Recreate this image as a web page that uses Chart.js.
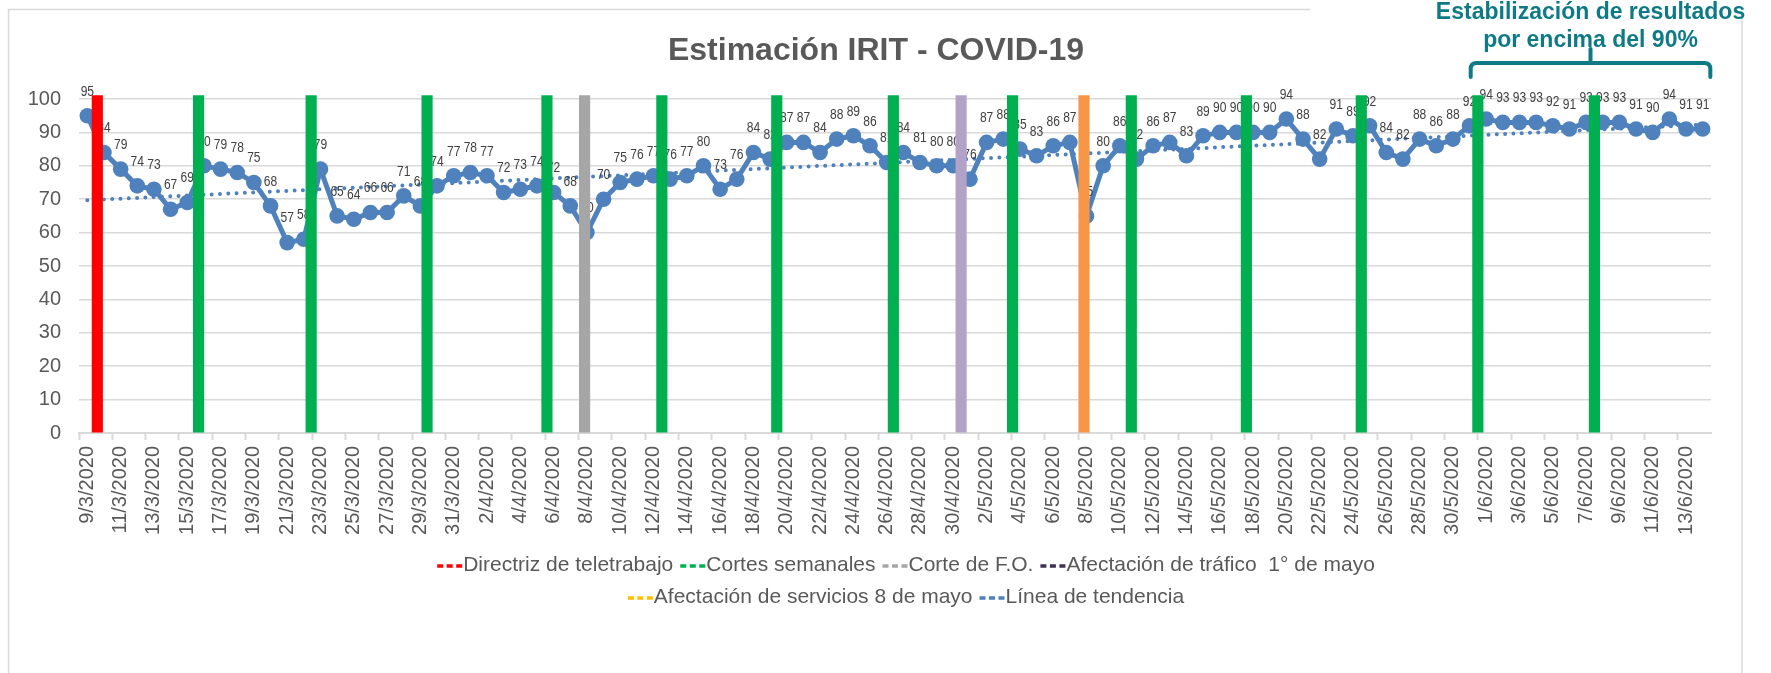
<!DOCTYPE html>
<html><head><meta charset="utf-8">
<script src="https://cdn.jsdelivr.net/npm/chart.js@4.4.1/dist/chart.umd.min.js"></script>
<style>html,body{margin:0;padding:0;background:#fff;} canvas{display:block;}</style>
</head><body>
<canvas id="c" width="1771" height="673"></canvas>
<script>
const FONT = "'Liberation Sans', Arial, Helvetica, sans-serif";

// Categories (one per day)
const dates = [
 '9/3/2020','10/3/2020','11/3/2020','12/3/2020','13/3/2020','14/3/2020','15/3/2020','16/3/2020','17/3/2020','18/3/2020',
 '19/3/2020','20/3/2020','21/3/2020','22/3/2020','23/3/2020','24/3/2020','25/3/2020','26/3/2020','27/3/2020','28/3/2020',
 '29/3/2020','30/3/2020','31/3/2020',
 '1/4/2020','2/4/2020','3/4/2020','4/4/2020','5/4/2020','6/4/2020','7/4/2020','8/4/2020','9/4/2020','10/4/2020',
 '11/4/2020','12/4/2020','13/4/2020','14/4/2020','15/4/2020','16/4/2020','17/4/2020','18/4/2020','19/4/2020','20/4/2020',
 '21/4/2020','22/4/2020','23/4/2020','24/4/2020','25/4/2020','26/4/2020','27/4/2020','28/4/2020','29/4/2020','30/4/2020',
 '1/5/2020','2/5/2020','3/5/2020','4/5/2020','5/5/2020','6/5/2020','7/5/2020','8/5/2020','9/5/2020','10/5/2020',
 '11/5/2020','12/5/2020','13/5/2020','14/5/2020','15/5/2020','16/5/2020','17/5/2020','18/5/2020','19/5/2020','20/5/2020',
 '21/5/2020','22/5/2020','23/5/2020','24/5/2020','25/5/2020','26/5/2020','27/5/2020','28/5/2020','29/5/2020','30/5/2020',
 '31/5/2020',
 '1/6/2020','2/6/2020','3/6/2020','4/6/2020','5/6/2020','6/6/2020','7/6/2020','8/6/2020','9/6/2020','10/6/2020',
 '11/6/2020','12/6/2020','13/6/2020','14/6/2020'
];

// IRIT estimate (%)
const irit = [
 95,84,79,74,73,67,69,80,79,78,75,68,57,58,79,65,64,66,66,71,68,74,77,
 78,77,72,73,74,72,68,60,70,75,76,77,76,77,80,73,76,84,82,87,87,84,88,89,86,81,84,81,80,80,
 76,87,88,85,83,86,87,65,80,86,82,86,87,83,89,90,90,90,90,94,88,82,91,89,92,84,82,88,86,88,92,
 94,93,93,93,92,91,93,93,93,91,90,94,91,91
];

// Event markers: position in day units (0 = 9/3/2020)
const teletrabajo = [0.6];
const cortesSemanales = [6.68, 13.44, 20.4, 27.6, 34.5, 41.4, 48.4, 55.56, 62.69, 69.6, 76.5, 83.5, 90.5];
const corteFO = [29.86];
const trafico1Mayo = [52.47];
const servicios8Mayo = [59.85];
const markerSpan = [0, 101];

// Trend line end values
const trendDays = [0, 97];
const trendValues = [69.7, 92.3];

// Annotation bracket span (day units)
const bracketDays = [83.07, 97.46];

const legendRows = [[0,1,2,3],[4,5]];

function markerSet(label, positions, color, legendColor) {
  return {
    type: 'bar', label, xAxisID: 'x2', yAxisID: 'y',
    data: positions.map(p => ({x: p, y: markerSpan})),
    backgroundColor: color, borderWidth: 0, barThickness: 10.5,
    grouped: false, clip: false, order: 0, legendColor
  };
}

const datasets = [
  markerSet('Directriz de teletrabajo', teletrabajo, '#FF0000', '#FF0000'),
  markerSet('Cortes semanales', cortesSemanales, '#00B050', '#00B050'),
  markerSet('Corte de F.O.', corteFO, '#A6A6A6', '#A6A6A6'),
  markerSet('Afectación de tráfico  1° de mayo', trafico1Mayo, '#B3A2C7', '#403152'),
  markerSet('Afectación de servicios 8 de mayo', servicios8Mayo, '#F79646', '#FFC000'),
  {
    type: 'line', label: 'Línea de tendencia', xAxisID: 'x2', yAxisID: 'y',
    data: trendDays.map((d, i) => ({x: d, y: trendValues[i]})),
    borderColor: '#4F81BD', borderWidth: 4, borderDash: [0, 8.3], borderCapStyle: 'round',
    pointRadius: 0, fill: false, order: 2, legendColor: '#4F81BD'
  },
  {
    type: 'line', id: 'irit', label: 'IRIT', xAxisID: 'x', yAxisID: 'y',
    data: irit, borderColor: '#4F81BD', borderWidth: 5, tension: 0,
    pointRadius: 7.8, pointBackgroundColor: '#4F81BD', pointBorderWidth: 0,
    fill: false, order: 1, clip: false
  }
];

const decor = {
  id: 'decor',
  beforeDraw(chart) {
    const ctx = chart.ctx;
    ctx.save();
    ctx.fillStyle = '#fff';
    ctx.fillRect(0, 0, chart.width, chart.height);
    ctx.strokeStyle = '#D9D9D9';
    ctx.lineWidth = 1.5;
    ctx.beginPath();
    ctx.moveTo(8.5, 673); ctx.lineTo(8.5, 9.5); ctx.lineTo(1310, 9.5);
    ctx.moveTo(1742, 17); ctx.lineTo(1742, 673);
    ctx.stroke();
    ctx.restore();
  },
  afterDatasetDraw(chart, args) {
    const ds = chart.data.datasets[args.index];
    if (ds.id !== 'irit') return;
    const ctx = chart.ctx;
    ctx.save();
    ctx.font = '14px ' + FONT;
    ctx.fillStyle = '#404040';
    ctx.textAlign = 'center';
    ctx.textBaseline = 'middle';
    args.meta.data.forEach((pt, i) => {
      ctx.save();
      ctx.translate(pt.x, pt.y - 24);
      ctx.scale(0.86, 1);
      ctx.fillText(String(ds.data[i]), 0, 0);
      ctx.restore();
    });
    ctx.restore();
  },
  afterDraw(chart) {
    const ctx = chart.ctx;
    const x2 = chart.scales.x2;
    ctx.save();
    // Title
    ctx.font = 'bold 32px ' + FONT;
    ctx.fillStyle = '#595959';
    ctx.textAlign = 'center';
    ctx.textBaseline = 'middle';
    ctx.fillText('Estimación IRIT - COVID-19', 876, 51);

    // Annotation
    const bl = x2.getPixelForValue(bracketDays[0]);
    const br = x2.getPixelForValue(bracketDays[1]);
    const bm = (bl + br) / 2;
    ctx.fillStyle = '#0E7A86';
    ctx.font = 'bold 23px ' + FONT;
    ctx.textBaseline = 'alphabetic';
    ctx.fillText('Estabilización de resultados', bm, 19);
    ctx.fillText('por encima del 90%', bm, 47);
    ctx.strokeStyle = '#0E7A86';
    ctx.lineWidth = 4;
    ctx.lineCap = 'round';
    ctx.lineJoin = 'round';
    const by = 63, r = 6;
    ctx.beginPath();
    ctx.moveTo(bl, 77); ctx.lineTo(bl, by + r);
    ctx.quadraticCurveTo(bl, by, bl + r, by);
    ctx.lineTo(br - r, by);
    ctx.quadraticCurveTo(br, by, br, by + r);
    ctx.lineTo(br, 77);
    ctx.moveTo(bm, by); ctx.lineTo(bm, 49);
    ctx.stroke();

    // Legend
    ctx.font = '21px ' + FONT;
    ctx.textBaseline = 'middle';
    ctx.textAlign = 'left';
    const markW = 25, markGap = 1, itemGap = 7;
    const rowsY = [565, 597];
    const centerX = 906;
    legendRows.forEach((row, ri) => {
      const widths = row.map(i => markW + markGap + ctx.measureText(chart.data.datasets[i].label).width);
      const total = widths.reduce((a, b) => a + b, 0) + itemGap * (row.length - 1);
      let x = centerX - total / 2;
      const y = rowsY[ri];
      row.forEach((i, k) => {
        const ds = chart.data.datasets[i];
        ctx.save();
        ctx.strokeStyle = ds.legendColor;
        ctx.lineWidth = 3.5;
        ctx.lineCap = 'butt';
        ctx.setLineDash([6, 3.5]);
        ctx.beginPath();
        ctx.moveTo(x, y + 1); ctx.lineTo(x + markW, y + 1);
        ctx.stroke();
        ctx.restore();
        ctx.fillStyle = '#595959';
        ctx.fillText(ds.label, x + markW + markGap, y);
        x += widths[k] + itemGap;
      });
    });
    ctx.restore();
  }
};

new Chart(document.getElementById('c'), {
  type: 'line',
  data: { labels: dates, datasets },
  options: {
    responsive: false, animation: false, devicePixelRatio: 1, events: [],
    layout: { padding: { top: 99, right: 60, left: 0, bottom: 0 } },
    plugins: { legend: { display: false }, tooltip: { enabled: false }, title: { display: false } },
    scales: {
      x: {
        type: 'category', offset: true,
        afterFit(s) { s.height = 240; },
        grid: { display: true, drawOnChartArea: false, drawTicks: true, offset: true, tickLength: 7, tickWidth: 2,
                tickColor: c => (c.index % 2 === 0 ? '#D9D9D9' : 'rgba(0,0,0,0)') },
        border: { display: true, color: '#D9D9D9', width: 2 },
        ticks: {
          autoSkip: false, minRotation: 90, maxRotation: 90, padding: 6,
          color: '#595959', font: { family: FONT, size: 20 },
          callback: function(v, i) { return i % 2 === 0 ? this.getLabelForValue(v) : ''; }
        }
      },
      x2: { type: 'linear', display: false, min: -0.5, max: dates.length - 0.5, offset: false },
      y: {
        min: 0, max: 100,
        afterFit(s) { s.width = 79; },
        grid: { color: '#D9D9D9', lineWidth: 1.5, drawTicks: false },
        border: { display: false },
        ticks: { stepSize: 10, padding: 18, color: '#595959', font: { family: FONT, size: 20 } }
      }
    }
  },
  plugins: [decor]
});
</script>
</body></html>
